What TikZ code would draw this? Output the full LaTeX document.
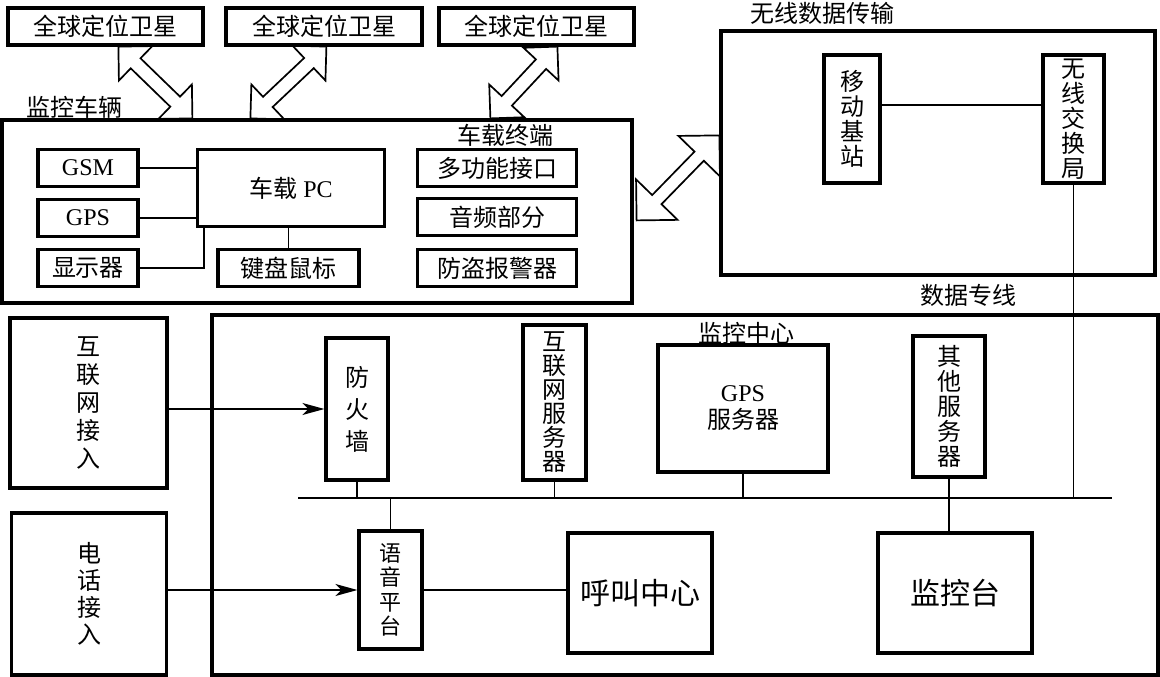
\documentclass[tikz,border=0pt]{standalone}
\usepackage{fontspec}
\setmainfont{Liberation Serif}
\newfontfamily\cjk{Noto Sans CJK SC}
\usetikzlibrary{calc,arrows.meta,backgrounds}

% hollow double arrow between two tips: #3 head length, #4 half shaft width
\newcommand{\hollowarrow}[4]{%
  \coordinate (ha) at ($(#1)!#3!(#2)$);
  \coordinate (hb) at ($(#2)!#3!(#1)$);
  \draw[hollow] (#1) -- ($(ha)!#3!90:(#1)$) -- ($(ha)!#4!90:(#1)$)
    -- ($(hb)!#4!-90:(#2)$) -- ($(hb)!#3!-90:(#2)$) -- (#2)
    -- ($(hb)!#3!90:(#2)$) -- ($(hb)!#4!90:(#2)$)
    -- ($(ha)!#4!-90:(#1)$) -- ($(ha)!#3!-90:(#1)$) -- cycle;}

\begin{document}
\begin{tikzpicture}[x=1pt,y=-1pt,
    box/.style={draw, line width=3.2pt, fill=white, inner sep=0pt, align=center,
      font=\cjk\fontsize{24}{25}\selectfont},
    latin/.style={font=\fontsize{24}{25}\selectfont},
    lbl/.style={inner sep=0pt, font=\cjk\fontsize{24}{25}\selectfont},
    link/.style={line width=1.6pt},
    stub/.style={line width=1.1pt},
    bus/.style={line width=2.2pt},
    feed/.style={line width=1.6pt, -{Stealth[length=22pt,width=12pt,inset=6pt]}},
    hollow/.style={line width=1.7pt, fill=white, line join=miter}]
      \useasboundingbox (0,0) rectangle (1160,677);

      % satellites
      \node (sat1) at (105.5,26.5) [box, minimum width=195pt, minimum height=37pt] {全球定位卫星};
      \node (sat2) at (324,26.5) [box, minimum width=196pt, minimum height=37pt] {全球定位卫星};
      \node (sat3) at (536.5,26.5) [box, minimum width=195pt, minimum height=37pt] {全球定位卫星};

      % monitored vehicle
      \node (car) at (317,211.5) [box, minimum width=630pt, minimum height=183pt] {};
      \node (carlbl) at (75,107) [lbl] {监控车辆};
      \node (termlbl) at (505,135) [lbl] {车载终端};
      \node (gsm) at (88,168) [box, latin, minimum width=100pt, minimum height=37pt] {GSM};
      \node (gps) at (88,218) [box, latin, minimum width=100pt, minimum height=37pt] {GPS};
      \node (disp) at (88,268) [box, minimum width=100pt, minimum height=37pt] {显示器};
      \node (pc) at (291,188) [box, latin, minimum width=187pt, minimum height=77pt] {{\cjk 车载} PC};
      \node (kbd) at (288.5,268) [box, minimum width=141pt, minimum height=37pt] {键盘鼠标};
      \node (multi) at (497,168) [box, minimum width=159pt, minimum height=37pt] {多功能接口};
      \node (audio) at (497,217) [box, minimum width=159pt, minimum height=37pt] {音频部分};
      \node (alarm) at (497,268) [box, minimum width=159pt, minimum height=37pt] {防盗报警器};

      % wireless transmission
      \node (wire) at (938,153) [box, minimum width=434pt, minimum height=244pt] {};
      \node (wirelbl) at (822,13) [lbl] {无线数据传输};
      \node (mob) at (852,119) [box, minimum width=56pt, minimum height=128pt] {移\\动\\基\\站};
      \node (xchg) at (1073.5,119) [box, minimum width=61pt, minimum height=128pt] {无\\线\\交\\换\\局};
      \node (datalbl) at (968,295) [lbl] {数据专线};

      % monitoring centre
      \node (ctr) at (685,495) [box, minimum width=946pt, minimum height=360pt] {};
      \node (ctrlbl) at (746,333) [lbl] {监控中心};
      \node (inet) at (88.5,403) [box, minimum width=157pt, minimum height=170pt,
        font=\cjk\fontsize{24}{28}\selectfont] {互\\联\\网\\接\\入};
      \node (tel) at (89,594) [box, minimum width=155pt, minimum height=162pt,
        font=\cjk\fontsize{24}{27}\selectfont] {电\\话\\接\\入};
      \node (fw) at (357,409) [box, minimum width=62pt, minimum height=142pt,
        font=\cjk\fontsize{24}{32}\selectfont] {防\\火\\墙};
      \node (web) at (554.5,402.5) [box, minimum width=63pt, minimum height=155pt,
        font=\cjk\fontsize{24}{24}\selectfont] {互\\联\\网\\服\\务\\器};
      \node (gpssrv) at (743,408.5) [box, latin, minimum width=170pt, minimum height=127pt,
        font=\fontsize{24}{27}\selectfont] {GPS\\{\cjk 服务器}};
      \node (other) at (949,406.5) [box, minimum width=72pt, minimum height=141pt] {其\\他\\服\\务\\器};
      \node (voice) at (390.5,590) [box, minimum width=63pt, minimum height=118pt,
        font=\cjk\fontsize{22}{24.5}\selectfont] {语\\音\\平\\台};
      \node (call) at (640,593) [box, minimum width=144pt, minimum height=120pt,
        font=\cjk\fontsize{30}{32}\selectfont] {呼叫中心};
      \node (console) at (955,593) [box, minimum width=154pt, minimum height=120pt,
        font=\cjk\fontsize{30}{32}\selectfont] {监控台};

      % hollow double arrows
      \begin{pgfonlayer}{background}
      \coordinate (t1a) at ([xshift=112pt]sat1.south west);
      \coordinate (t1b) at ([xshift=192pt]car.north west);
      \coordinate (t2a) at ([xshift=102pt]sat2.south west);
      \coordinate (t2b) at ([xshift=250pt]car.north west);
      \coordinate (t3a) at ([xshift=120pt]sat3.south west);
      \coordinate (t3b) at ([xshift=490pt]car.north west);
      \coordinate (t4a) at ([xshift=3pt,yshift=-102pt]car.north east);
      \coordinate (t4b) at ([yshift=-106pt]wire.north west);
      \hollowarrow{t1a}{t1b}{24pt}{7pt}
      \hollowarrow{t2a}{t2b}{24pt}{7pt}
      \hollowarrow{t3a}{t3b}{24pt}{7pt}
      \hollowarrow{t4a}{t4b}{29pt}{6.5pt}
      \end{pgfonlayer}

      % vehicle links
      \draw[link] (gsm.east) -- (gsm.east -| pc.west)
      (gps.east) -- (gps.east -| pc.west)
      (disp.east) -| ([xshift=8pt]pc.south west)
      (kbd.north) -- (kbd.north |- pc.south);
      \draw[link] ([yshift=14pt]mob.east) -- ([yshift=14pt]mob.east -| xchg.west);

      % bus of the centre
      \coordinate (busL) at (298,498);
      \coordinate (busR) at (1112,498);
      \draw[bus] (busL) -- (busR);
      \draw[stub] (fw.south) -- (fw.south |- busL)
      (web.south) -- (web.south |- busL)
      (gpssrv.south) -- (gpssrv.south |- busL)
      (other.south) -- (other.south |- console.north)
      (voice.north) -- (voice.north |- busL);
      \draw[link] (xchg.south) -- (xchg.south |- busL);
      \draw[link] (voice.east) -- (voice.east -| call.west);
      \draw[feed] (inet.east |- fw.west) -- (fw.west);
      \draw[feed] (tel.east |- voice.west) -- (voice.west);
    \end{tikzpicture}
\end{document}
